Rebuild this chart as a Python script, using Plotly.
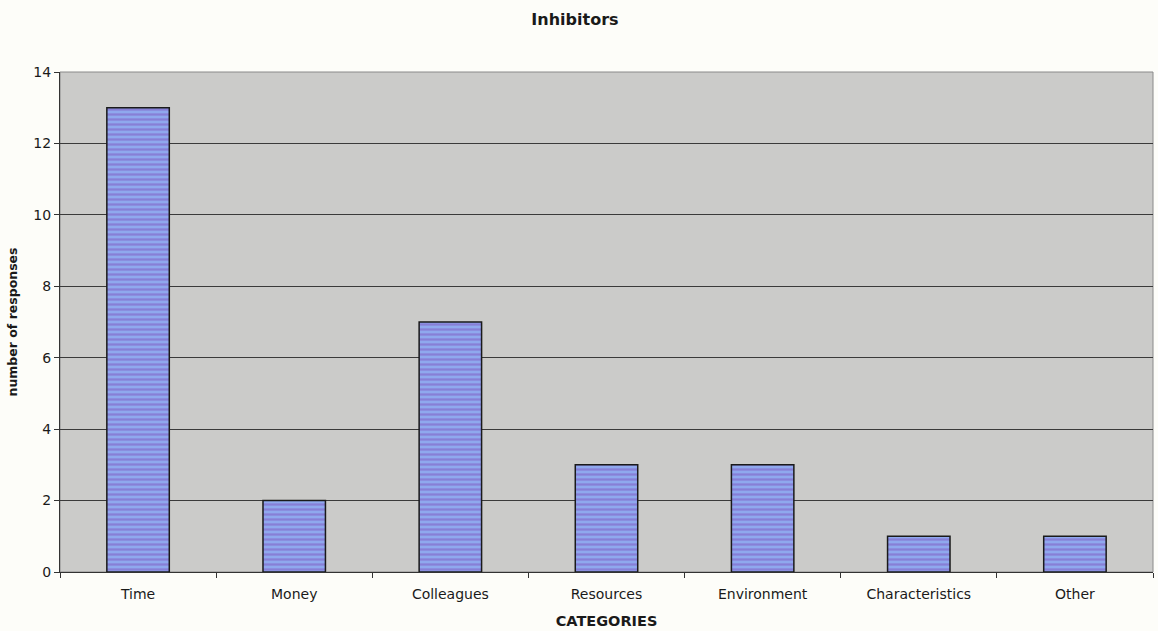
import plotly.graph_objects as go

categories = ["Time", "Money", "Colleagues", "Resources", "Environment", "Characteristics", "Other"]
responses = [13, 2, 7, 3, 3, 1, 1]
y_ticks = [0, 2, 4, 6, 8, 10, 12, 14]

FONT = "DejaVu Sans, Verdana, sans-serif"

fig = go.Figure(
    go.Bar(
        x=categories,
        y=responses,
        width=0.4,
        marker=dict(
            color="#8c9de8",
            line=dict(color="#1a1a1a", width=1.5),
            pattern=dict(shape="-", fgcolor="#7f55c0", bgcolor="#8fa8ee",
                         size=5, solidity=0.45),
        ),
        showlegend=False,
    )
)

fig.update_layout(
    width=1158,
    height=631,
    margin=dict(l=60, r=5, t=72, b=59),
    paper_bgcolor="#fdfdf9",
    plot_bgcolor="#cbcbc9",
    title=dict(text="<b>Inhibitors</b>", x=0.4965, xanchor="center", y=0.97,
               yanchor="middle", font=dict(family=FONT, size=16, color="#1a1a1a")),
    font=dict(family=FONT, color="#1a1a1a"),
    bargap=0.6,
)

fig.update_xaxes(
    title=dict(text="<b>CATEGORIES</b>", font=dict(size=14.5), standoff=14),
    tickfont=dict(size=14), ticklabelstandoff=9,
    showline=True, linecolor="#333333", linewidth=1.2,
    ticks="outside", tickson="boundaries", ticklen=5, tickcolor="#333333",
    showgrid=False,
)
fig.update_yaxes(
    title=dict(text="<b>number of responses</b>", font=dict(size=12.5), standoff=12),
    range=[0, 14], tickvals=y_ticks, tickfont=dict(size=14),
    showline=True, linecolor="#333333", linewidth=1.2,
    ticks="outside", ticklen=5, tickcolor="#333333",
    showgrid=True, gridcolor="#3a3a3a", gridwidth=1,
    zeroline=False,
)

# plot-area frame on top and right
fig.add_shape(type="rect", xref="paper", yref="paper", x0=0, y0=0, x1=1, y1=1,
              line=dict(color="#8a8a8a", width=1), layer="below")

fig.write_html("out.html")
